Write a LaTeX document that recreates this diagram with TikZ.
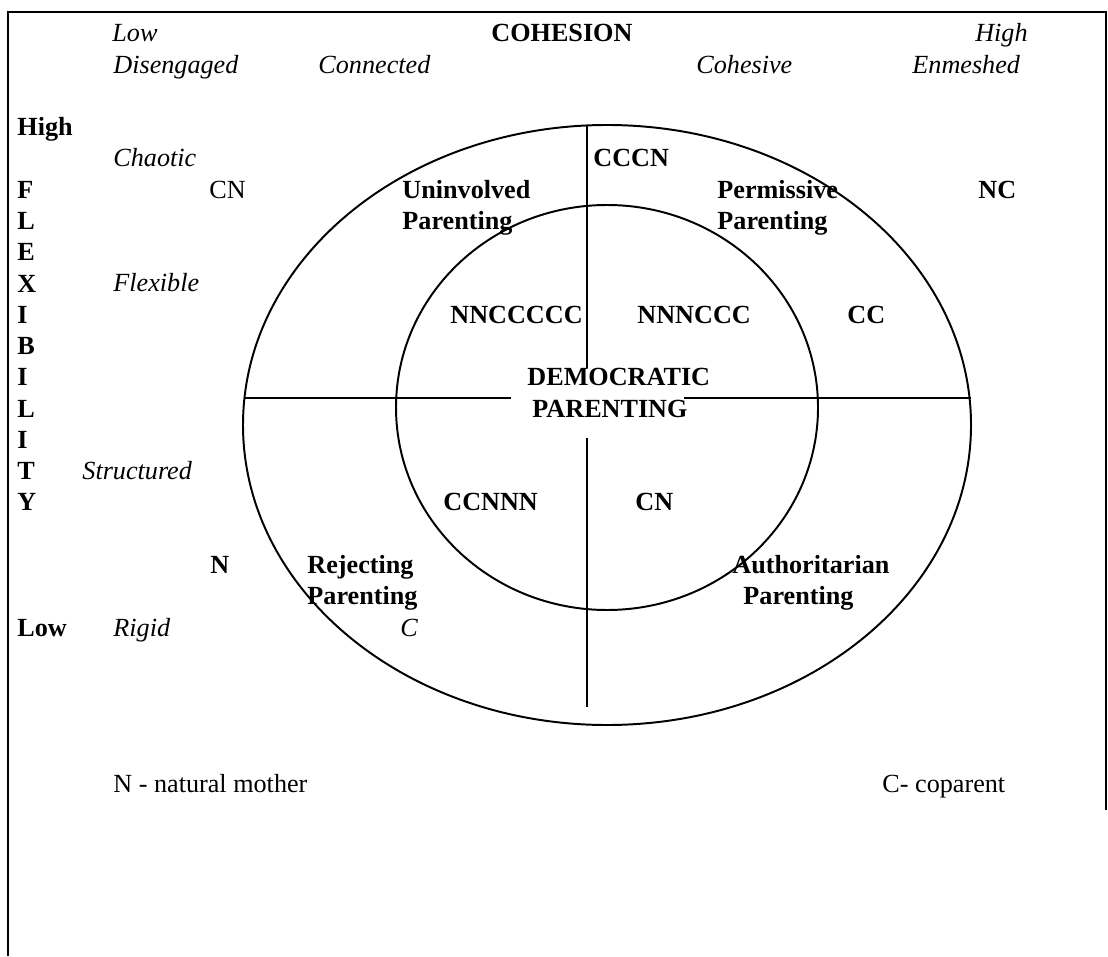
\documentclass[tikz,border=0pt]{standalone}
\usepackage{fontspec}
\setmainfont{Liberation Serif}
\usepackage{tikz}
\usetikzlibrary{
  calc,
  positioning
}
\tikzset{
  txt/.style={anchor=base west,inner sep=0pt,font=\fontsize{12}{14.3}\selectfont},
  itxt/.style={txt,font=\fontsize{12}{14.3}\selectfont\itshape},
  btxt/.style={txt,font=\fontsize{12}{14.3}\selectfont\bfseries},
  rim/.style={line width=0.9pt}
}

\begin{document}
\begin{tikzpicture}[x=0.4587pt,y=-0.4587pt]
                  \useasboundingbox (0,0) rectangle (1108,956);
                  % frame of the table cell
                  \draw[line width=0.8pt] (8,956) -- (8,12) -- (1106,12) -- (1106,810);

                  % cohesion axis
                  \node[itxt] (lowcoh) at (112,42) {Low};
                  \node[btxt] (cohesion) at (491,42) {COHESION};
                  \node[itxt,anchor=base east] (highcoh) at (1028,42) {High};
                  \node[itxt] (diseng) at (113,73.3) {Disengaged};
                  \node[itxt] (connect) at (318,73.3) {Connected};
                  \node[itxt] (cohes) at (696,73.3) {Cohesive};
                  \node[itxt] (enmesh) at (912,73.3) {Enmeshed};

                  % flexibility axis
                  \node[btxt] (highflex) at (17,135.8) {High};
                  \foreach \ch [count=\i from 5] in {F,L,E,X,I,B,I,L,I,T,Y}
                    \node[btxt] (flex\i) at (17,{42+31.26*\i}) {\ch};
                  \node[btxt] (lowflex) at (17,636) {Low};
                  \node[itxt] (chaotic) at (113,167) {Chaotic};
                  \node[itxt] (flexible) at (113,292) {Flexible};
                  \node[itxt] (struct) at (82,479.6) {Structured};
                  \node[itxt] (rigid) at (113,636) {Rigid};

                  % circles and quadrant lines
                  \draw[rim] (607,425) ellipse [x radius=364, y radius=300];
                  \draw[rim] (607,407.5) ellipse [x radius=211, y radius=202.5];
                  \coordinate (vtop) at (587,125);
                  \coordinate (vmid) at (587,368);
                  \coordinate (vlow) at (587,438);
                  \coordinate (vbot) at (587,707);
                  \coordinate (hleft) at (244,398);
                  \coordinate (hmidl) at (511,398);
                  \coordinate (hmidr) at (684,398);
                  \coordinate (hright) at (971,398);
                  \draw[rim] (vtop) -- (vmid);
                  \draw[rim] (vlow) -- (vbot);
                  \draw[rim] (hleft) -- (hmidl);
                  \draw[rim] (hmidr) -- (hright);

                  % outer ring
                  \node[txt] (cnout) at (209,198.3) {CN};
                  \node[btxt] (cccn) at (593,167) {CCCN};
                  \node[btxt] (uninv) at (402,198.3) {Uninvolved};
                  \node[btxt] (uninvp) at (402,229.6) {Parenting};
                  \node[btxt] (permis) at (717,198.3) {Permissive};
                  \node[btxt] (permisp) at (717,229.6) {Parenting};
                  \node[btxt] (ncout) at (978,198.3) {NC};
                  \node[btxt] (ccout) at (847,323.3) {CC};
                  \node[btxt] (nout) at (210,573.4) {N};
                  \node[btxt] (reject) at (307,573.4) {Rejecting};
                  \node[btxt] (rejectp) at (307,604.7) {Parenting};
                  \node[itxt] (cout) at (400,636) {C};
                  \node[btxt] (author) at (732,573.4) {Authoritarian};
                  \node[btxt] (authorp) at (743,604.7) {Parenting};

                  % inner circle
                  \node[btxt] (nnc) at (450,323.3) {NNCCCCC};
                  \node[btxt] (nnn) at (637,323.3) {NNNCCC};
                  \node[btxt] (demo) at (527,385.9) {DEMOCRATIC};
                  \node[btxt] (demop) at (532,417.1) {PARENTING};
                  \node[btxt] (ccn) at (443,510.9) {CCNNN};
                  \node[btxt] (cnin) at (635,510.9) {CN};

                  % key
                  \node[txt] (keyn) at (113,792.2) {N - natural mother};
                  \node[txt] (keyc) at (882,792.2) {C- coparent};
                \end{tikzpicture}
\end{document}
